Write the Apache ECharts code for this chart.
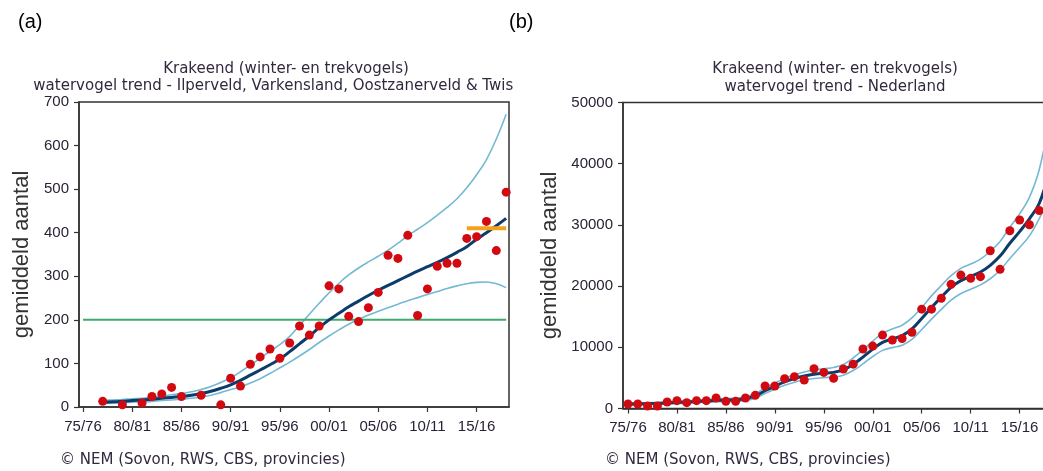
<!DOCTYPE html>
<html>
<head>
<meta charset="utf-8">
<script src="https://cdn.jsdelivr.net/npm/echarts@6/dist/echarts.min.js"></script>
<style>
  html, body { margin: 0; padding: 0; background: #fff; }
  #chart { width: 1043px; height: 471px; }
</style>
</head>
<body>
<div id="chart"></div>
<script>
// Krakeend (winter- en trekvogels): regional trend (a) and national trend (b)

// season axis: a season is keyed by the year it starts in (1975 -> "75/76")
const tickSeasons = [1975, 1980, 1985, 1990, 1995, 2000, 2005, 2010, 2015];
const tickLabels = ['75/76', '80/81', '85/86', '90/91', '95/96', '00/01', '05/06', '10/11', '15/16'];

// (a) Ilperveld, Varkensland, Oostzanerveld & Twiske
const regionSeasons = [1977, 1979, 1981, 1982, 1983, 1984, 1985, 1987, 1989, 1990,
  1991, 1992, 1993, 1994, 1995, 1996, 1997, 1998, 1999, 2000,
  2001, 2002, 2003, 2004, 2005, 2006, 2007, 2008, 2009, 2010,
  2011, 2012, 2013, 2014, 2015, 2016, 2017, 2018];
const regionCounts = [13, 5, 9, 24, 30, 45, 24, 27, 5, 66,
  48, 98, 115, 133, 112, 147, 186, 165, 186, 278,
  271, 208, 196, 228, 263, 348, 341, 394, 210, 271,
  323, 330, 330, 387, 391, 426, 359, 493];
const regionTrendStart = 1977;
const regionTrend = [11, 12, 13, 15, 16, 18, 20, 22, 24, 27,
  31, 36, 43, 51, 61, 73, 85, 97, 110, 127,
  145, 163, 182, 200, 215, 230, 243, 256, 268, 279,
  290, 301, 312, 322, 332, 343, 355, 368, 385, 400,
  416, 433];
const regionUpper = [15, 16, 17, 19, 20, 22, 25, 28, 31, 35,
  40, 47, 56, 67, 81, 96, 112, 128, 143, 162,
  187, 213, 238, 262, 284, 303, 319, 333, 346, 360,
  376, 393, 408, 423, 440, 458, 478, 503, 533, 568,
  615, 672];
const regionLower = [8, 9, 10, 11, 12, 13, 15, 16, 18, 20,
  23, 27, 33, 40, 46, 55, 65, 77, 90, 103,
  117, 132, 148, 163, 177, 190, 201, 211, 220, 228,
  236, 244, 251, 258, 265, 272, 278, 283, 286, 287,
  283, 274];
const regionNorm = 200;                       // green reference level
const regionNormSeasons = [1975, 2018];
const regionRecentMean = 410;                 // orange: mean of the last five seasons
const regionRecentSeasons = [2014, 2018];

// (b) Nederland
const nlSeasonStart = 1975;
const nlCounts = [735, 735, 408, 408, 1062, 1280, 950, 1280, 1280, 1720,
  1170, 1170, 1720, 2150, 3680, 3680, 4880, 5200, 4650, 6500,
  5900, 4950, 6450, 7250, 9720, 10200, 12000, 11180, 11430, 12440,
  16230, 16230, 18000, 20290, 21800, 21270, 21540, 25780, 22740, 29050,
  30800, 30030, 32350];
const nlTrend = [720, 750, 780, 830, 900, 980, 1060, 1150, 1240, 1320,
  1380, 1450, 1600, 2050, 2900, 3650, 4350, 4900, 5300, 5600,
  5780, 5900, 6300, 7200, 8400, 9700, 10800, 11400, 11900, 13000,
  14700, 16500, 18200, 19800, 20900, 21600, 22300, 23400, 24900, 27000,
  28900, 31000, 33500, 38500];
const nlUpper = [900, 920, 950, 1000, 1080, 1170, 1260, 1360, 1460, 1550,
  1620, 1720, 1900, 2450, 3350, 4150, 4900, 5500, 5950, 6300,
  6500, 6700, 7200, 8250, 9600, 11000, 12300, 13000, 13600, 14800,
  16500, 18400, 20100, 21700, 22900, 23600, 24400, 25700, 27300, 29600,
  31800, 34500, 39000, 47000];
const nlLower = [560, 590, 620, 670, 730, 800, 870, 950, 1030, 1100,
  1150, 1200, 1320, 1680, 2450, 3150, 3800, 4300, 4650, 4900,
  5050, 5150, 5450, 6200, 7300, 8500, 9500, 9950, 10350, 11300,
  12900, 14600, 16200, 17700, 18800, 19500, 20200, 21200, 22600, 24500,
  26300, 28200, 31000, 34500];

const titleLine1 = 'Krakeend (winter- en trekvogels)';
const regionTitle2 = 'watervogel trend - Ilperveld, Varkensland, Oostzanerveld & Twiske';
const nlTitle2 = 'watervogel trend - Nederland';
const yName = 'gemiddeld aantal';
const credit = '\u00A9 NEM (Sovon, RWS, CBS, provincies)';

// colours
const C_POINT = '#d10a12';
const C_TREND = '#0b3c6b';
const C_CI = '#74b9d3';
const C_NORM = '#3dab6b';
const C_RECENT = '#f4a11c';
const C_AXIS = '#333333';
const C_TEXT = '#2a2236';
const C_TITLE = '#33293f';

const zipStart = (start, vals) => vals.map((v, i) => [start + i, v]);
const zipXY = (xs, ys) => xs.map((x, i) => [x, ys[i]]);
const seasonLabel = v => {
  const i = tickSeasons.indexOf(Math.round(v));
  return i >= 0 ? tickLabels[i] : '';
};

function xAxisFor(gridIndex, min, max) {
  return {
    type: 'value', gridIndex, min, max,
    axisLine: { show: true, onZero: false, lineStyle: { color: C_AXIS, width: 1.5 } },
    axisTick: { show: true, length: 5, customValues: tickSeasons, lineStyle: { color: C_AXIS, width: 1.2 } },
    axisLabel: { customValues: tickSeasons, formatter: seasonLabel, margin: 12,
      fontFamily: 'Liberation Sans', fontSize: 15, color: C_TEXT },
    splitLine: { show: false }
  };
}
function yAxisFor(gridIndex, max, interval, gap) {
  return {
    type: 'value', gridIndex, min: 0, max, interval,
    name: yName, nameLocation: 'middle', nameRotate: 90, nameGap: gap,
    nameTextStyle: { fontFamily: 'Liberation Sans', fontSize: 22, color: '#333' },
    axisLine: { show: true, lineStyle: { color: C_AXIS, width: 1.5 } },
    axisTick: { show: true, length: 5, lineStyle: { color: C_AXIS, width: 1.2 } },
    axisLabel: { margin: 10, formatter: v => String(v),
      fontFamily: 'Liberation Sans', fontSize: 15, color: C_TEXT },
    splitLine: { show: false }
  };
}
function ciLine(idx, data) {
  return { type: 'line', xAxisIndex: idx, yAxisIndex: idx, data, smooth: 0.4,
    showSymbol: false, silent: true, z: 2,
    lineStyle: { color: C_CI, width: 1.6 } };
}
function trendLine(idx, data) {
  return { type: 'line', xAxisIndex: idx, yAxisIndex: idx, data, smooth: 0.4,
    showSymbol: false, silent: true, z: 4,
    lineStyle: { color: C_TREND, width: 3 } };
}
function points(idx, data) {
  return { type: 'scatter', xAxisIndex: idx, yAxisIndex: idx, data, symbol: 'circle',
    symbolSize: 9, z: 6, itemStyle: { color: C_POINT, opacity: 1 } };
}

const chart = echarts.init(document.getElementById('chart'), null, { renderer: 'canvas' });

const textBase = { fontFamily: 'DejaVu Sans', fontSize: 15, fill: C_TITLE };

chart.setOption({
  animation: false,
  backgroundColor: '#ffffff',
  grid: [
    { left: 79, top: 102, width: 430, height: 305, show: true, borderColor: C_AXIS, borderWidth: 1.5,
      containLabel: false, outerBoundsMode: 'none' },
    { left: 623, top: 102.5, width: 430, height: 306, show: true, borderColor: C_AXIS, borderWidth: 1.5,
      containLabel: false, outerBoundsMode: 'none' }
  ],
  xAxis: [xAxisFor(0, 1974.59, 2018.29), xAxisFor(1, 1974.49, 2018.41)],
  yAxis: [yAxisFor(0, 700, 100, 46), yAxisFor(1, 50000, 10000, 62)],
  series: [
    ciLine(0, zipStart(regionTrendStart, regionUpper)),
    ciLine(0, zipStart(regionTrendStart, regionLower)),
    { type: 'line', xAxisIndex: 0, yAxisIndex: 0, silent: true, showSymbol: false, z: 3,
      data: regionNormSeasons.map(s => [s, regionNorm]),
      lineStyle: { color: C_NORM, width: 2 } },
    trendLine(0, zipStart(regionTrendStart, regionTrend)),
    { type: 'line', xAxisIndex: 0, yAxisIndex: 0, silent: true, showSymbol: false, z: 5,
      data: regionRecentSeasons.map(s => [s, regionRecentMean]),
      lineStyle: { color: C_RECENT, width: 4 } },
    points(0, zipXY(regionSeasons, regionCounts)),

    ciLine(1, zipStart(nlSeasonStart, nlUpper)),
    ciLine(1, zipStart(nlSeasonStart, nlLower)),
    trendLine(1, zipStart(nlSeasonStart, nlTrend)),
    points(1, zipStart(nlSeasonStart, nlCounts))
  ],
  graphic: [
    { type: 'text', x: 18, y: 22, style: { text: '(a)', fontFamily: 'Liberation Sans', fontSize: 20, fill: '#000', verticalAlign: 'middle' } },
    { type: 'text', x: 509, y: 22, style: { text: '(b)', fontFamily: 'Liberation Sans', fontSize: 20, fill: '#000', verticalAlign: 'middle' } },

    { type: 'text', x: 286, y: 69, z: 10, style: Object.assign({ text: titleLine1, align: 'center', verticalAlign: 'middle' }, textBase) },
    { type: 'text', x: 282, y: 86, z: 10, style: Object.assign({ text: regionTitle2, align: 'center', verticalAlign: 'middle' }, textBase) },
    // the left panel ends here; hide the overflowing end of its title
    { type: 'rect', z: 11, shape: { x: 514, y: 74, width: 46, height: 24 }, style: { fill: '#ffffff' } },

    { type: 'text', x: 835, y: 69, z: 10, style: Object.assign({ text: titleLine1, align: 'center', verticalAlign: 'middle' }, textBase) },
    { type: 'text', x: 835, y: 87, z: 10, style: Object.assign({ text: nlTitle2, align: 'center', verticalAlign: 'middle' }, textBase) },

    { type: 'text', x: 60, y: 460, style: Object.assign({ text: credit, verticalAlign: 'middle' }, textBase) },
    { type: 'text', x: 605, y: 460, style: Object.assign({ text: credit, verticalAlign: 'middle' }, textBase) }
  ]
});
</script>
</body>
</html>
